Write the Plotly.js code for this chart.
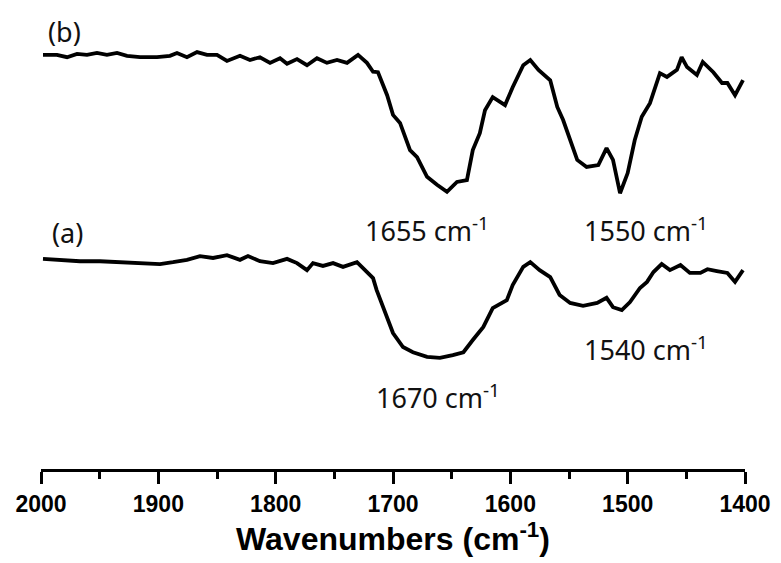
<!DOCTYPE html>
<html>
<head>
<meta charset="utf-8">
<script src="https://cdn.plot.ly/plotly-3.0.1.min.js"></script>
<style>html,body{margin:0;padding:0;background:#fff;}#chart{width:781px;height:563px;}</style>
</head>
<body>
<div id="chart"></div>
<script>
// Spectrum (b): wavenumber (cm-1) and relative transmittance (a.u.)
const waveB = [1998.3,1986.4,1977.8,1969.3,1960.8,1952.3,1943.8,1935.2,1926.7,1915.6,1901.1,1890.1,1884.1,1875.6,1867.0,1858.5,1850.0,1841.5,1830.4,1821.9,1813.4,1804.8,1796.3,1790.3,1781.8,1773.3,1764.8,1756.3,1747.7,1739.2,1729.8,1722.2,1717.0,1712.8,1705,1700,1694,1685.5,1679.5,1671,1662.5,1654,1645.5,1637,1632,1626,1621.6,1615,1604.5,1598,1589,1583,1576,1566,1560,1555,1543,1535,1525,1518,1512.5,1506.5,1500,1494,1488,1481,1472.5,1466.5,1458,1454,1449.4,1441,1436,1427,1419.6,1415,1408.5,1401.7];
const transB = [88.3,88.3,87.8,88.5,88.3,88.7,88.3,88.7,88.1,87.8,87.8,88.1,88.7,87.8,88.9,88.3,88.3,87.0,88.1,87.2,87.8,86.6,87.6,86.4,87.4,86.1,87.6,86.6,87.2,86.6,88.3,86.6,84.7,84.6,79.7,75.5,73.8,68.0,66.5,62.3,60.6,59.1,61.2,61.6,68.0,71.6,76.5,79.3,77.6,81.4,86.1,87.2,85.1,82.9,77.2,74.4,65.9,64.4,64.8,68.4,65.9,58.8,63.1,70.1,75.1,78.0,84.4,83.6,85.1,87.8,85.7,84.0,86.8,84.6,82.3,82.3,79.7,82.9];

// Spectrum (a)
const waveA = [1998.3,1983.8,1966.8,1949.7,1932.7,1915.6,1898.6,1887.5,1875.6,1864.5,1853.4,1841.5,1830.4,1823.6,1813.4,1802.3,1790.3,1781.8,1773.3,1768.2,1759.7,1751.1,1742.6,1730.7,1725.6,1717.0,1714,1708.5,1700,1691.5,1683,1671,1660,1649,1640,1632,1623,1615,1603,1598,1589,1583,1575,1566,1558,1549,1538,1526,1518,1512.5,1505,1498,1489.5,1483.5,1478,1471,1464,1455,1447,1438,1432,1424,1415,1408.5,1401.7];
const transA = [44.8,44.6,44.3,44.3,44.1,44.1,43.7,44.1,44.6,45.4,45.0,45.6,44.6,45.4,44.3,43.9,44.8,43.9,42.4,43.9,43.3,43.9,43.1,44.1,42.9,40.7,38.2,34.5,29.0,26.0,24.9,23.9,23.7,24.3,24.9,27.5,30.3,34.3,36.0,39.2,43.1,44.1,42.4,40.9,37.1,35.4,34.8,35.4,36.5,34.5,33.9,35.6,38.6,39.9,42.0,43.7,42.4,43.5,41.8,41.8,42.6,42.2,41.8,39.9,42.4];

// Labels
const curveLabels = ["(b)", "(a)"];
const curveLabelX = [1980, 1977];
const curveLabelY = [93.2, 50.5];
const peakLabels = ["1655 cm<sup>-1</sup>", "1550 cm<sup>-1</sup>", "1670 cm<sup>-1</sup>", "1540 cm<sup>-1</sup>"];
const peakLabelX = [1671, 1484, 1662, 1484];
const peakLabelY = [51.0, 51.0, 15.4, 25.6];
const tickVals = [2000, 1900, 1800, 1700, 1600, 1500, 1400];
const tickText = ["2000", "1900", "1800", "1700", "1600", "1500", "1400"];

const lineStyle = {color: '#000', width: 3.8};
const traces = [
  {x: waveB, y: transB, type: 'scatter', mode: 'lines', line: lineStyle, hoverinfo: 'skip'},
  {x: waveA, y: transA, type: 'scatter', mode: 'lines', line: lineStyle, hoverinfo: 'skip'}
];

const annFont = {family: 'Noto Sans, Open Sans, sans-serif', size: 27, color: '#111'};
const annotations = [];
curveLabels.forEach((t, i) => annotations.push({x: curveLabelX[i], y: curveLabelY[i], xref: 'x', yref: 'y', text: t, showarrow: false, font: annFont, xanchor: 'center', yanchor: 'middle'}));
peakLabels.forEach((t, i) => annotations.push({x: peakLabelX[i], y: peakLabelY[i], xref: 'x', yref: 'y', text: t, showarrow: false, font: annFont, xanchor: 'center', yanchor: 'middle'}));

const layout = {
  width: 781, height: 563,
  margin: {l: 41, r: 36, t: 0, b: 94},
  paper_bgcolor: '#fff', plot_bgcolor: '#fff',
  showlegend: false,
  xaxis: {
    range: [2000, 1400], autorange: false,
    showgrid: false, zeroline: false,
    showline: true, linecolor: '#000', linewidth: 3,
    ticks: 'outside', ticklen: 12, tickwidth: 3, tickcolor: '#000',
    tickvals: tickVals, ticktext: tickText,
    tickfont: {family: 'Liberation Sans, Arial, sans-serif', size: 23, color: '#000', weight: 'bold'},
    minor: {dtick: 50, ticks: 'outside', ticklen: 7, tickwidth: 3, tickcolor: '#000', showgrid: false},
    title: {text: 'Wavenumbers (cm<sup>-1</sup>)', standoff: 8, font: {family: 'Liberation Sans, Arial, sans-serif', size: 32, color: '#000', weight: 'bold'}},
    automargin: false, fixedrange: true
  },
  yaxis: {range: [0, 100], autorange: false, visible: false, fixedrange: true},
  annotations: annotations
};

Plotly.newPlot('chart', traces, layout, {staticPlot: true, displayModeBar: false});
</script>
</body>
</html>
